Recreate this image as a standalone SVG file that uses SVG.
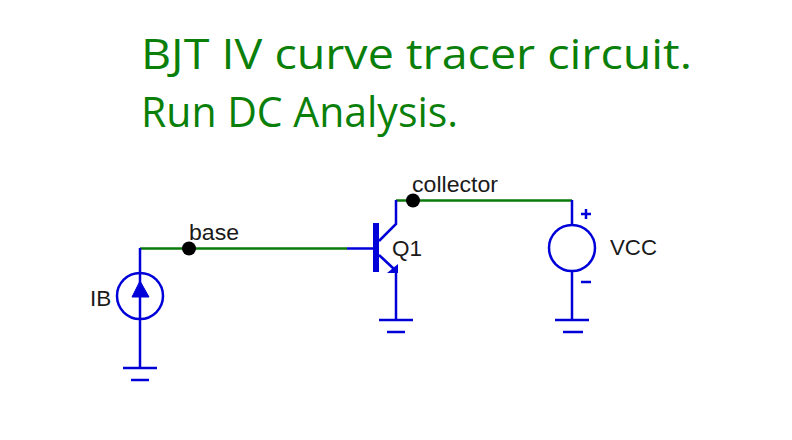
<svg xmlns="http://www.w3.org/2000/svg" width="792" height="440" viewBox="0 0 792 440">
<style>
.w{stroke:#0000d8;stroke-width:2.5;fill:none}
.g{stroke:#0a7a0a;stroke-width:2.5;fill:none}
.t{font-family:"Liberation Sans",Arial,sans-serif;font-size:22.5px;fill:#1a1a1a}
.h{font-family:"Open Sans","Noto Sans",sans-serif;font-size:42px;fill:#0a800a}
.d{fill:#000}
</style>
<rect width="792" height="440" fill="#fff"/>
<g id="connectors">
<path class="g" d="M140 248.500H347"/>
<path class="g" d="M396 200.500H572"/>
<path class="w" d="M347 248.500H373"/>
</g>
<g id="title">
<text class="h" x="141" y="69" textLength="551" lengthAdjust="spacingAndGlyphs">BJT IV curve tracer circuit.</text>
<text class="h" x="141" y="127" textLength="317" lengthAdjust="spacingAndGlyphs">Run DC Analysis.</text>
</g>
<g id="IB">
<path class="w" d="M140 248V368M123 368H157M131 380H149"/>
<circle class="w" cx="140" cy="296" r="23"/>
<path d="M140 281L149 297H132Z" fill="#0000d8" stroke="#0000d8"/>
<text class="t" x="90" y="306">IB</text>
</g>
<g id="Q1">
<rect x="373" y="223" width="6" height="49" fill="#0000d8"/>
<path class="w" d="M379 241L396 224V200M379 255L394 269M396 270V320M379 320H413M387 332H405"/>
<path d="M398 264V273H387Z" fill="#0000d8"/>
<text class="t" x="392" y="256">Q1</text>
</g>
<g id="VCC">
<path class="w" d="M572 200V225M572 271V320M555 320H589M563 332H583"/>
<circle class="w" cx="572" cy="248" r="23"/>
<path class="w" d="M581 214H591M586 209V219M581 282H591"/>
<text class="t" x="610" y="255" textLength="47" lengthAdjust="spacingAndGlyphs">VCC</text>
</g>
<g id="base">
<circle class="d" cx="189" cy="248.500" r="7"/>
<text class="t" x="189" y="240" textLength="50" lengthAdjust="spacingAndGlyphs">base</text>
</g>
<g id="collector">
<circle class="d" cx="413" cy="200.500" r="7"/>
<text class="t" x="412" y="192" textLength="86" lengthAdjust="spacingAndGlyphs">collector</text>
</g>
</svg>
